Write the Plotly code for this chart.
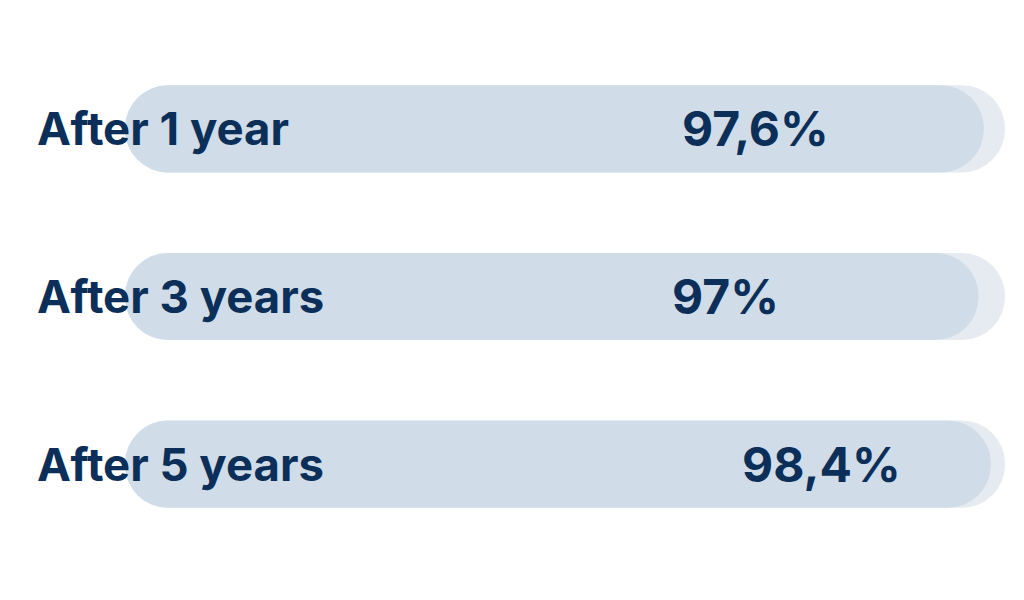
import plotly.graph_objects as go

categories = ["After 1 year", "After 3 years", "After 5 years"]
values = [97.6, 97.0, 98.4]
value_labels = ["97,6%", "97%", "98,4%"]
track_max = [100, 100, 100]

# styling: horizontal centres of the value labels (data units)
value_label_x = [71.6, 68.2, 79.1]

TEXT = "#0b2f58"
FG = "#d0dde9"
TRACK = "#e6ebf1"
FONT = "Inter"
BAR_W = 0.52

n = len(categories)
fig = go.Figure()
# an explicit base makes plotly round both ends of each bar (pill shape)
fig.add_trace(go.Bar(
    y=categories, x=track_max, base=[0] * n, orientation="h",
    marker=dict(color=TRACK, cornerradius="50%", line=dict(width=0)),
    width=BAR_W, hoverinfo="skip", showlegend=False,
))
fig.add_trace(go.Bar(
    y=categories, x=values, base=[0] * n, orientation="h",
    marker=dict(color=FG, cornerradius="50%", line=dict(width=0)),
    width=BAR_W, hoverinfo="skip", showlegend=False,
))

annotations = []
for cat in categories:
    annotations.append(dict(
        x=-0.102, xref="paper", y=cat, yref="y", text="<b>%s</b>" % cat,
        xanchor="left", yanchor="middle", showarrow=False,
        font=dict(family=FONT, size=45.5, color=TEXT),
    ))
for cat, lx, lab in zip(categories, value_label_x, value_labels):
    annotations.append(dict(
        x=lx, xref="x", y=cat, yref="y", text="<b>%s</b>" % lab,
        xanchor="center", yanchor="middle", showarrow=False,
        font=dict(family=FONT, size=48, color=TEXT),
    ))

fig.update_layout(
    width=1016, height=592,
    margin=dict(l=117, r=19, t=37, b=52),
    barmode="overlay",
    paper_bgcolor="white", plot_bgcolor="white",
    xaxis=dict(range=[0, 100], visible=False, fixedrange=True),
    yaxis=dict(autorange=False, range=[2.5, -0.5], visible=False, fixedrange=True),
    annotations=annotations,
)

fig.write_html("out.html")
